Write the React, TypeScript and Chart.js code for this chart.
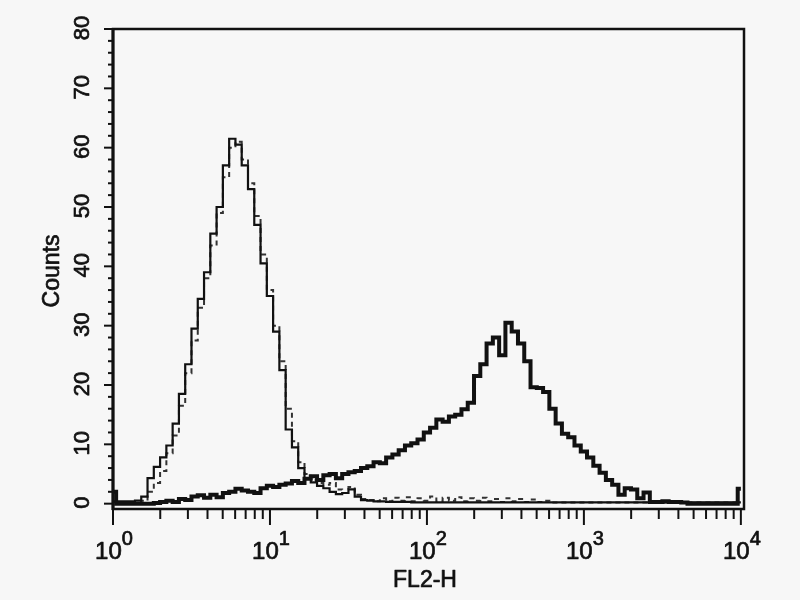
import { useEffect, useRef } from "react";
import { Chart, registerables } from "chart.js";

Chart.register(...registerables);

// Log-scale acquisition channels: 0.04-decade bins from 10^0 to 10^4
const CHANNEL_COUNT = 100;
const DECADES = 4;
const CHANNELS: number[] = Array.from({ length: CHANNEL_COUNT + 1 }, (_, i) =>
  Math.pow(10, (i * DECADES) / CHANNEL_COUNT)
);

// Isotype / unstained control (thin solid)
const CONTROL_SOLID: number[] = [
  0.4, 0.4, 0.4, 0.4, 0.5, 1.2, 4.3, 6.2, 7.8, 9.8,
  13.5, 18.5, 23.5, 29.5, 34.5, 39, 45.5, 50, 57, 61.5,
  60.5, 57, 53, 47, 40.5, 35, 29, 22.5, 12.5, 9.5,
  6.0, 4.2, 3.6, 3.0, 2.6, 2.0, 1.6, 1.8, 2.4, 1.2,
  0.6, 0.5, 0.4, 0.4, 0.3, 0.3, 0.3, 0.3, 0.2, 0.2,
  0.2, 0.2, 0.2, 0.2, 0.2, 0.2, 0.2, 0.2, 0.2, 0.2,
  0.2, 0.2, 0.2, 0.2, 0.2, 0.2, 0.2, 0.2, 0.2, 0.2,
  0.2, 0.2, 0.2, 0.2, 0.2, 0.2, 0.2, 0.2, 0.2, 0.2,
  0.2, 0.2, 0.2, 0.2, 0.2, 0.2, 0.2, 0.2, 0.2, 0.2,
  0.2, 0.2, 0.2, 0.2, 0.2, 0.2, 0.2, 0.2, 0.2, 0.2,
  0.2,
];

// Second control (dashed)
const CONTROL_DASHED: number[] = [
  0.3, 0.3, 0.3, 0.3, 0.3, 0.5, 2.0, 3.5, 5.5, 8.5,
  11.5, 16.5, 22, 27.5, 33, 38, 43.5, 49, 55, 60,
  61, 58, 54, 48.5, 42, 36, 30, 24, 16, 10.5,
  7.0, 5.0, 4.0, 3.5, 3.2, 3.5, 2.4, 1.8, 2.8, 1.5,
  0.8, 0.6, 0.4, 0.9, 0.4, 1.0, 0.5, 1.1, 0.4, 0.9,
  0.5, 1.2, 0.4, 1.0, 0.5, 1.1, 0.4, 0.9, 0.5, 1.0,
  0.4, 0.8, 0.3, 0.9, 0.4, 0.8, 0.3, 0.7, 0.3, 0.5,
  0.2, 0.2, 0.2, 0.2, 0.2, 0.2, 0.2, 0.2, 0.2, 0.2,
  0.2, 0.2, 0.2, 0.2, 0.2, 0.2, 0.2, 0.2, 0.2, 0.2,
  0.2, 0.2, 0.2, 0.2, 0.2, 0.2, 0.2, 0.2, 0.2, 0.2,
  0.2,
];

// Stained sample (thick)
const STAINED: number[] = [
  2.0, 0, 0, 0, 0, 0, 0, 0.1, 0.3, 0.5,
  0.3, 0.8, 0.6, 1.2, 1.4, 1.0, 1.5, 1.1, 1.8, 2.0,
  2.5, 2.2, 2.0, 1.8, 2.6, 3.0, 2.8, 3.2, 3.4, 3.8,
  3.5, 4.2, 4.6, 4.0, 4.8, 5.0, 4.3, 5.0, 5.3, 5.5,
  6.0, 6.3, 7.0, 6.8, 7.8, 8.3, 9.0, 9.8, 10.2, 10.8,
  12.0, 12.8, 14.2, 13.8, 14.7, 15.0, 15.9, 17.0, 21.5, 23.5,
  27.0, 28.0, 25.0, 30.5, 29.0, 27.0, 24.0, 19.6, 19.5, 18.8,
  16.0, 13.5, 11.8, 11.2, 9.8, 8.8, 7.8, 6.4, 5.2, 4.0,
  3.2, 1.5, 2.6, 2.4, 0.9, 1.9, 0.3, 0.3, 0.4, 0.3,
  0.3, 0.2, 0, 0, 0, 0, 0, 0, 0, 0,
  2.5,
];

const Y_TICKS: number[] = [0, 10, 20, 30, 40, 50, 60, 70, 80];
const Y_TICK_LABELS: string[] = ["0", "10", "20", "30", "40", "50", "60", "70", "80"];
const Y_MINOR_STEP = 2;
const X_DECADE_EXPONENTS: number[] = [0, 1, 2, 3, 4];
const X_DECADE_LABELS: string[] = ["0", "1", "2", "3", "4"];
const X_MINOR_MULTIPLIERS: number[] = [2, 3, 4, 5, 6, 7, 8, 9];
const X_TITLE = "FL2-H";
const Y_TITLE = "Counts";

const INK = "#111111";
const BG = "#f7f7f7";
const FONT = '"Liberation Sans", Arial, sans-serif';

const toPoints = (vals: number[]) => vals.map((v, i) => ({ x: CHANNELS[i], y: v }));

const heavyText = (ctx: CanvasRenderingContext2D, t: string, x: number, y: number) => {
  ctx.fillText(t, x, y);
  ctx.strokeText(t, x, y);
};

const axesPlugin = {
  id: "fcsAxes",
  beforeDraw(chart: any) {
    const { ctx, width, height } = chart;
    ctx.save();
    ctx.fillStyle = BG;
    ctx.fillRect(0, 0, width, height);
    ctx.restore();
  },
  afterDatasetsDraw(chart: any) {
    const { ctx, chartArea: a, scales } = chart;
    const xs = scales.x;
    const ys = scales.y;
    ctx.save();
    ctx.strokeStyle = INK;
    ctx.fillStyle = INK;
    ctx.lineCap = "butt";

    // frame
    ctx.lineWidth = 2.5;
    ctx.strokeRect(a.left, a.top, a.right - a.left, a.bottom - a.top);
    ctx.lineWidth = 3;
    ctx.beginPath();
    ctx.moveTo(a.left, a.top - 1);
    ctx.lineTo(a.left, a.bottom + 1);
    ctx.stroke();

    // y ticks
    ctx.lineWidth = 2;
    const yMax = Y_TICKS[Y_TICKS.length - 1];
    for (let v = Y_TICKS[0]; v <= yMax; v += Y_MINOR_STEP) {
      const py = ys.getPixelForValue(v);
      const major = Y_TICKS.includes(v);
      const len = major ? 9 : 5;
      ctx.beginPath();
      ctx.moveTo(a.left - len, py);
      ctx.lineTo(a.left, py);
      ctx.stroke();
    }

    // x ticks
    X_DECADE_EXPONENTS.forEach((e, idx) => {
      const px = xs.getPixelForValue(Math.pow(10, e));
      ctx.beginPath();
      ctx.moveTo(px, a.bottom);
      ctx.lineTo(px, a.bottom + 16);
      ctx.stroke();
      if (idx < X_DECADE_EXPONENTS.length - 1) {
        X_MINOR_MULTIPLIERS.forEach((m) => {
          const mx = xs.getPixelForValue(m * Math.pow(10, e));
          ctx.beginPath();
          ctx.moveTo(mx, a.bottom);
          ctx.lineTo(mx, a.bottom + 10);
          ctx.stroke();
        });
      }
    });

    ctx.lineWidth = 0.7;
    ctx.lineJoin = "round";

    // y labels (rotated)
    ctx.font = `22px ${FONT}`;
    ctx.textAlign = "center";
    ctx.textBaseline = "middle";
    Y_TICKS.forEach((v, i) => {
      const py = ys.getPixelForValue(v);
      ctx.save();
      ctx.translate(83, py - 1);
      ctx.rotate(-Math.PI / 2);
      heavyText(ctx, Y_TICK_LABELS[i], 0, 0);
      ctx.restore();
    });

    // x labels: 10 with superscript
    const baseFont = `24px ${FONT}`;
    const supFont = `20px ${FONT}`;
    ctx.textBaseline = "alphabetic";
    ctx.textAlign = "left";
    X_DECADE_EXPONENTS.forEach((e, i) => {
      const px = xs.getPixelForValue(Math.pow(10, e));
      ctx.font = baseFont;
      const w1 = ctx.measureText("10").width;
      ctx.font = supFont;
      const w2 = ctx.measureText(X_DECADE_LABELS[i]).width;
      const start = px - (w1 + w2) / 2 + 1;
      ctx.font = baseFont;
      heavyText(ctx, "10", start, 559);
      ctx.font = supFont;
      heavyText(ctx, X_DECADE_LABELS[i], start + w1, 545);
    });

    // axis titles
    ctx.font = `23px ${FONT}`;
    ctx.textAlign = "center";
    ctx.textBaseline = "alphabetic";
    heavyText(ctx, X_TITLE, 425, 587);
    ctx.save();
    ctx.translate(59, 271);
    ctx.rotate(-Math.PI / 2);
    heavyText(ctx, Y_TITLE, 0, 0);
    ctx.restore();

    ctx.restore();
  },
};

export default function App() {
  const ref = useRef<HTMLCanvasElement | null>(null);
  useEffect(() => {
    if (!ref.current) return;
    const chart = new Chart(ref.current, {
      type: "line",
      data: {
        datasets: [
          {
            label: "Stained",
            data: toPoints(STAINED),
            borderColor: INK,
            borderWidth: 4,
            stepped: "middle",
            pointRadius: 0,
            fill: false,
          },
          {
            label: "Control",
            data: toPoints(CONTROL_SOLID),
            borderColor: INK,
            borderWidth: 2.2,
            stepped: "middle",
            pointRadius: 0,
            fill: false,
          },
          {
            label: "Control 2",
            data: toPoints(CONTROL_DASHED),
            borderColor: "#333333",
            borderWidth: 2,
            borderDash: [5, 4],
            stepped: "middle",
            pointRadius: 0,
            fill: false,
          },
        ],
      },
      options: {
        animation: false,
        responsive: false,
        maintainAspectRatio: false,
        devicePixelRatio: 1,
        parsing: true,
        layout: { padding: { left: 113, top: 29, right: 56, bottom: 91 } },
        plugins: {
          legend: { display: false },
          tooltip: { enabled: false },
        },
        scales: {
          x: {
            type: "logarithmic",
            display: false,
            min: 1,
            max: Math.pow(10, 4.02),
          },
          y: {
            type: "linear",
            display: false,
            min: -0.9,
            max: 80,
          },
        },
        datasets: { line: { clip: 6 } } as any,
      },
      plugins: [axesPlugin],
    });
    return () => chart.destroy();
  }, []);
  return (
    <div style={{ position: "absolute", left: 0, top: 0, width: 800, height: 600 }}>
      <canvas ref={ref} width={800} height={600} style={{ width: 800, height: 600 }} />
    </div>
  );
}
